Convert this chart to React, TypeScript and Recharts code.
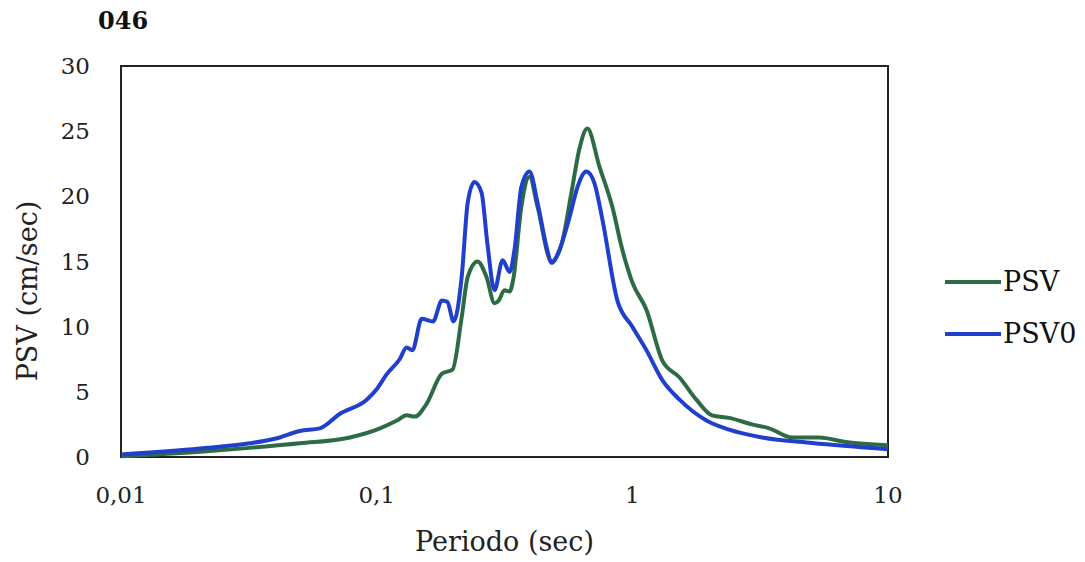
import React from 'react';
import {
  LineChart,
  Line,
  XAxis,
  YAxis,
  Label,
  ReferenceArea,
} from 'recharts';

// PSV (green)
const psvPeriods = [
  0.01, 0.0204, 0.0319, 0.05, 0.0786, 0.103, 0.12, 0.131, 0.141, 0.157, 0.18, 0.198,
  0.215, 0.227, 0.248, 0.269, 0.289, 0.3, 0.316, 0.331, 0.342, 0.368, 0.396, 0.426,
  0.483, 0.53, 0.578, 0.62, 0.667, 0.743, 0.835, 0.914, 1.0, 1.135, 1.31, 1.53, 1.78,
  2.05, 2.39, 2.94, 3.43, 4.22, 5.37, 6.85, 10,
];
const psvValues = [
  0.05, 0.4, 0.7, 1.05, 1.5, 2.2, 2.8, 3.2, 3.1, 4.1, 6.4, 6.7,
  10.7, 13.8, 15.0, 13.8, 11.8, 12.0, 12.8, 12.7, 13.6, 19.2, 21.5, 19.2,
  15.0, 16.4, 20.3, 23.6, 25.2, 22.3, 19.2, 15.9, 13.4, 11.3, 7.4, 6.1, 4.4,
  3.2, 3.0, 2.5, 2.2, 1.5, 1.5, 1.15, 0.9,
];

// PSV0 (blue)
const psv0Periods = [
  0.01, 0.0204, 0.0319, 0.0418, 0.05, 0.06, 0.0716, 0.0914, 0.1, 0.109, 0.123, 0.131,
  0.138, 0.15, 0.166, 0.18, 0.189, 0.2, 0.215, 0.227, 0.241, 0.257, 0.271, 0.289,
  0.311, 0.331, 0.346, 0.368, 0.396, 0.426, 0.462, 0.483, 0.519, 0.568, 0.61, 0.661,
  0.711, 0.764, 0.874, 1.0, 1.135, 1.31, 1.53, 1.95, 2.39, 3.22, 5.05, 10,
];
const psv0Values = [
  0.2, 0.65, 1.05, 1.5, 2.0, 2.2, 3.3, 4.4, 5.2, 6.3, 7.5, 8.4,
  8.2, 10.6, 10.4, 12.0, 11.9, 10.4, 13.8, 19.5, 21.1, 20.3, 16.4, 12.8,
  15.1, 14.2, 15.9, 20.7, 21.9, 19.5, 16.1, 14.9, 15.9, 18.4, 20.7, 21.9,
  21.0, 18.2, 12.0, 10.0, 8.2, 5.9, 4.4, 2.8, 2.1, 1.5, 1.07, 0.6,
];

const xTicks = [0.01, 0.1, 1, 10];
const yTicks = [0, 5, 10, 15, 20, 25, 30];

const psvData = psvPeriods.map((p, i) => ({ p, v: psvValues[i] }));
const psv0Data = psv0Periods.map((p, i) => ({ p, v: psv0Values[i] }));

const GREEN = '#2d6b45';
const BLUE = '#1f3fcc';
const FONT = '"DejaVu Serif", serif';

const App = () => {
  return (
    <div style={{ position: 'absolute', left: 0, top: 0, width: 1085, height: 562, background: '#fff', fontFamily: FONT }}>
      <LineChart
        width={1085}
        height={562}
        margin={{ top: 66, right: 197, bottom: 0, left: 0 }}
      >
        <XAxis
          dataKey="p"
          type="number"
          scale="log"
          domain={[0.01, 10]}
          ticks={xTicks}
          allowDataOverflow
          axisLine={false}
          tickLine={false}
          tickSize={0}
          tickMargin={30}
          height={105}
          tickFormatter={(t: number) => String(t).replace('.', ',')}
          tick={{ fontSize: 23, fill: '#222', fontFamily: FONT }}
        >
          <Label
            value="Periodo (sec)"
            position="insideBottom"
            offset={11}
            style={{ fontSize: 27, fill: '#222', fontFamily: FONT }}
          />
        </XAxis>
        <YAxis
          type="number"
          domain={[0, 30]}
          ticks={yTicks}
          width={121}
          axisLine={false}
          tickLine={false}
          tickSize={0}
          tickMargin={31}
          tick={{ fontSize: 23, fill: '#222', fontFamily: FONT }}
        >
          <Label
            content={() => (
              <text
                x={27}
                y={291}
                transform="rotate(-90, 27, 291)"
                textAnchor="middle"
                dominantBaseline="central"
                style={{ fontSize: 27, fill: '#222', fontFamily: FONT }}
              >
                PSV (cm/sec)
              </text>
            )}
          />
        </YAxis>
        <ReferenceArea
          x1={0.01}
          x2={10}
          y1={0}
          y2={30}
          fill="none"
          stroke="#222"
          strokeWidth={2}
          ifOverflow="visible"
        />
        <Line
          data={psvData}
          dataKey="v"
          type="monotone"
          stroke={GREEN}
          strokeWidth={4}
          dot={false}
          isAnimationActive={false}
        />
        <Line
          data={psv0Data}
          dataKey="v"
          type="monotone"
          stroke={BLUE}
          strokeWidth={4}
          dot={false}
          isAnimationActive={false}
        />
      </LineChart>
      <div style={{ position: 'absolute', left: 98, top: 6, fontSize: 24, fontWeight: 'bold', color: '#111' }}>046</div>
      {[
        { name: 'PSV', color: GREEN, top: 266 },
        { name: 'PSV0', color: BLUE, top: 318 },
      ].map((l) => (
        <div key={l.name} style={{ position: 'absolute', left: 945, top: l.top, display: 'flex', alignItems: 'center', fontSize: 27, color: '#111' }}>
          <div style={{ width: 56, height: 4, background: l.color, marginRight: 2 }} />
          <span>{l.name}</span>
        </div>
      ))}
    </div>
  );
};

export default App;
